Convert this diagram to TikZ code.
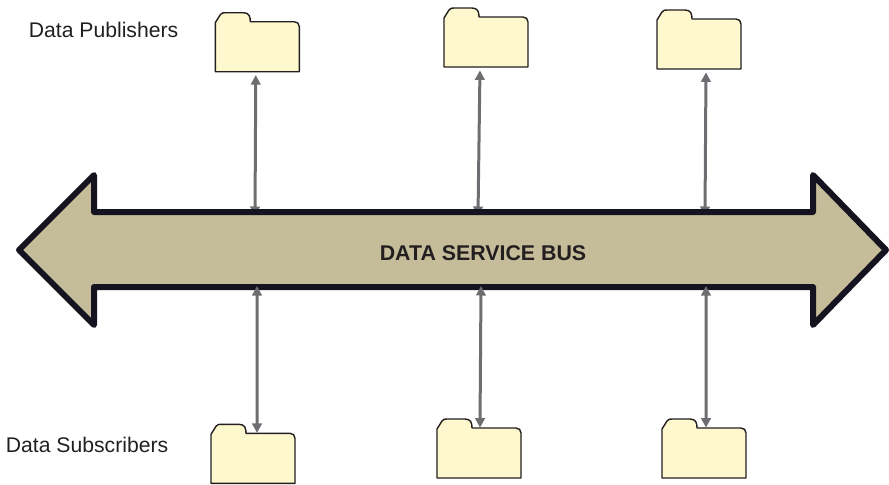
\documentclass[tikz,border=0pt]{standalone}
\usepackage{fontspec}
\setmainfont{Liberation Sans}
\usetikzlibrary{arrows.meta}
\definecolor{folderfill}{HTML}{FDF8CD}
\definecolor{busfill}{HTML}{C5BD99}
\definecolor{busline}{HTML}{15131F}
\definecolor{linkgray}{HTML}{6D6E71}
\definecolor{inkblack}{HTML}{231F20}
\tikzset{
  folder/.style={minimum width=1.68cm,minimum height=1cm,inner sep=0pt},
  foldertab/.style={draw=inkblack,fill=folderfill,line width=0.8pt,line join=round},
  caption/.style={font=\fontsize{12.05}{14}\selectfont,text=inkblack,inner sep=0pt}
}
\begin{document}
\begin{tikzpicture}[x=0.02cm,y=-0.02cm]
      \useasboundingbox (0,0) rectangle (889,484);
      \begin{scope}[every node/.style={folder}]
        \node (pub1) at (257.3,46.7)  {};
        \node (pub2) at (486,42)      {};
        \node (pub3) at (699,44)      {};
        \node (sub1) at (253,458.3)   {};
        \node (sub2) at (479,453)     {};
        \node (sub3) at (704,453)     {};
      \end{scope}
      \foreach \f in {pub1,pub2,pub3,sub1,sub2,sub3}
        \draw[foldertab,shift={(\f.center)}] (-42,25) -- (-42,-24)
          -- (-37,-32) .. controls (-35.5,-34) and (-34,-34) .. (-32,-34)
          -- (-14,-34) .. controls (-8,-34) and (-7,-30) .. (-7,-25)
          -- (37,-25) .. controls (40,-25) and (42,-23) .. (42,-20)
          -- (42,25) -- cycle;
      \coordinate (top1) at (255,216);
      \coordinate (top2) at (478,216);
      \coordinate (top3) at (705,216);
      \coordinate (bot1) at (257,286);
      \coordinate (bot2) at (481,286);
      \coordinate (bot3) at (706,286);
      \begin{scope}[>={Triangle[length=0.19cm,width=0.19cm]},every edge/.style={draw=linkgray,line width=0.06cm}]
        \path[<->,shorten <=0.06cm] ([xshift=-0.03cm]pub1.south) edge (top1);
        \path[<->,shorten <=0.06cm] ([xshift=-0.12cm]pub2.south) edge (top2);
        \path[<->,shorten <=0.06cm] ([xshift=0.14cm]pub3.south) edge (top3);
      \end{scope}
      % bus lies over the upper arrow ends
      \draw[draw=busline,fill=busfill,line width=0.12cm,line join=round]
        (19,250) -- (94,175) -- (94,212) -- (813,212) -- (813,175) -- (886,250)
        -- (813,325) -- (813,287) -- (94,287) -- (94,325) -- cycle;
      \node[caption,font=\fontsize{12.15}{14}\selectfont\bfseries] (bus) at (483,253) {DATA SERVICE BUS};
      \begin{scope}[>={Triangle[length=0.19cm,width=0.19cm]},every edge/.style={draw=linkgray,line width=0.06cm}]
        \path[<->] ([xshift=0.08cm]sub1.north) edge (bot1);
        \path[<->] ([xshift=0.02cm]sub2.north) edge (bot2);
        \path[<->] ([xshift=0.04cm]sub3.north) edge (bot3);
      \end{scope}
      \node[caption,anchor=west] (publishers) at (28.5,30) {Data Publishers};
      \node[caption,anchor=west] (subscribers) at (5.5,445) {Data Subscribers};
    \end{tikzpicture}
\end{document}
